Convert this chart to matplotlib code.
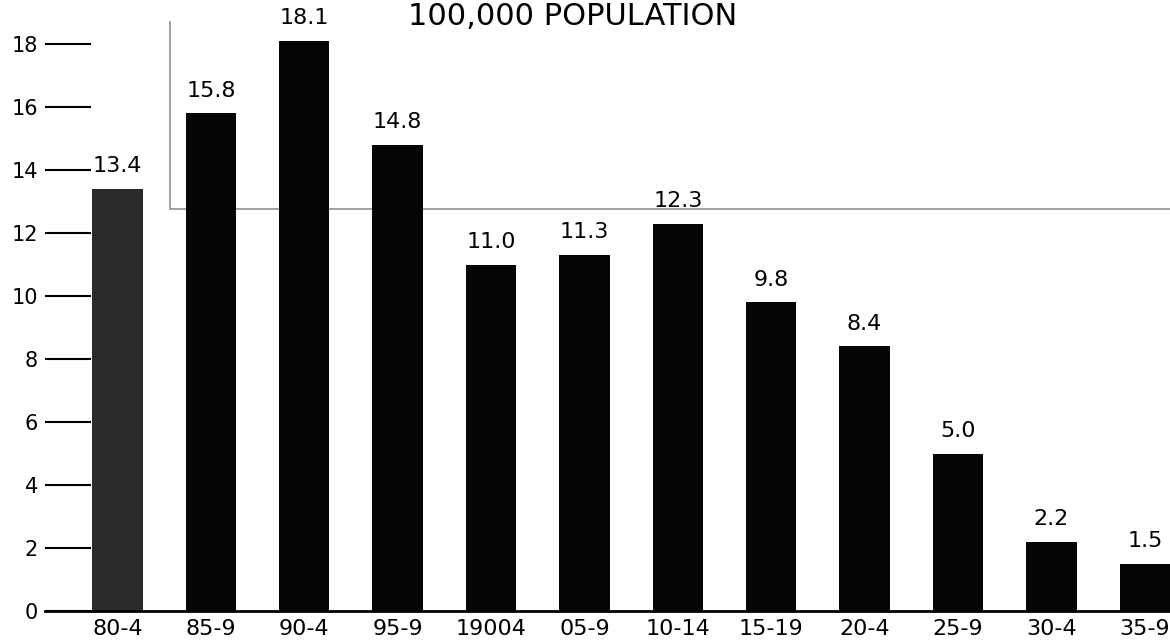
import matplotlib
matplotlib.use("Agg")
import matplotlib.pyplot as plt
from matplotlib.lines import Line2D

periods = ["80-4", "85-9", "90-4", "95-9", "19004", "05-9",
           "10-14", "15-19", "20-4", "25-9", "30-4", "35-9"]
rates = [13.4, 15.8, 18.1, 14.8, 11.0, 11.3, 12.3, 9.8, 8.4, 5.0, 2.2, 1.5]
rate_labels = ["13.4", "15.8", "18.1", "14.8", "11.0", "11.3",
               "12.3", "9.8", "8.4", "5.0", "2.2", "1.5"]
yticks = [0, 2, 4, 6, 8, 10, 12, 14, 16, 18]

plt.rcParams['font.family'] = ['DejaVu Sans']

fig = plt.figure(figsize=(11.7, 6.44), dpi=100)
ax = fig.add_axes([45/1170, 33/644, 1 - 45/1170, 1 - 33/644])

x = list(range(len(periods)))
colors = ["#2b2b2b"] + ["#050505"] * (len(periods) - 1)
ax.bar(x, rates, width=0.54, color=colors, zorder=2)

for xi, v, lab in zip(x, rates, rate_labels):
    ax.annotate(lab, (xi, v), xytext=(0, 12), textcoords="offset points",
                ha="center", va="baseline", fontsize=16, annotation_clip=False)

ax.set_xlim(-0.776, 11.27)
ax.set_ylim(0, 19.4)
ax.set_yticks(yticks)
ax.set_yticklabels([str(t) for t in yticks], fontsize=15)
ax.tick_params(axis="y", direction="in", length=33, width=1.5, pad=5, color="black")
ax.set_xticks(x)
ax.set_xticklabels(periods, fontsize=16)
ax.tick_params(axis="x", length=0, pad=6)

for s in ["top", "right", "left"]:
    ax.spines[s].set_visible(False)
ax.spines["bottom"].set_linewidth(2)

# faint scan border
border = Line2D([170/1170, 170/1170, 1.0], [1 - 22/644, 1 - 209/644, 1 - 209/644],
                transform=fig.transFigure, color="#9a9a9a", lw=1.3, zorder=1, clip_on=False)
ax.add_artist(border)

# title along the top edge
fig.text(0.489, 1 - 2/644, "100,000 POPULATION", ha="center", va="top",
         fontsize=22)

fig.savefig("out.png", dpi=100)
